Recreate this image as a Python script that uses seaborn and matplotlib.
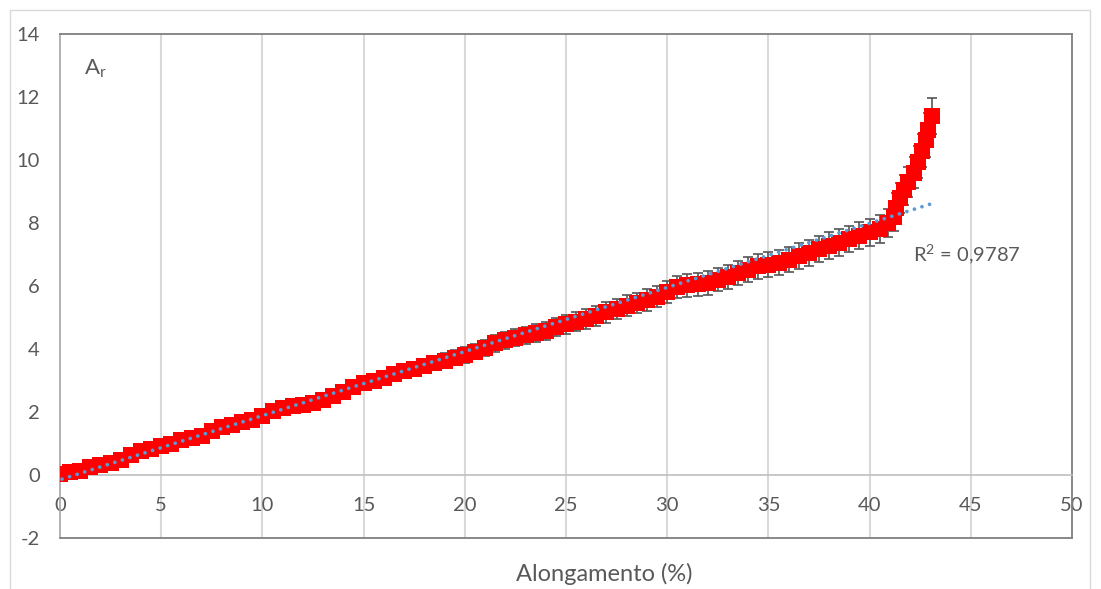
import matplotlib
matplotlib.use("Agg")
import numpy as np
import pandas as pd
import matplotlib.pyplot as plt
from matplotlib.ticker import MultipleLocator, FixedLocator
from matplotlib.patches import Rectangle
import seaborn as sns

# Elongation (%) of each measurement
elongation = [
    0.0, 0.5, 1.0, 1.5, 2.0, 2.5, 3.0, 3.5, 4.0, 4.5,
    5.0, 5.5, 6.0, 6.5, 7.0, 7.5, 8.0, 8.5, 9.0, 9.5,
    10.0, 10.5, 11.0, 11.5, 12.0, 12.5, 13.0, 13.5, 14.0, 14.5,
    15.0, 15.5, 16.0, 16.5, 17.0, 17.5, 18.0, 18.5, 19.0, 19.5,
    20.0, 20.5, 21.0, 21.5, 22.0, 22.5, 23.0, 23.5, 24.0, 24.5,
    25.0, 25.5, 26.0, 26.5, 27.0, 27.5, 28.0, 28.5, 29.0, 29.5,
    30.0, 30.5, 31.0, 31.5, 32.0, 32.5, 33.0, 33.5, 34.0, 34.5,
    35.0, 35.5, 36.0, 36.5, 37.0, 37.5, 38.0, 38.5, 39.0, 39.5,
    40.0, 40.5,
    40.9, 41.2, 41.3, 41.5, 41.7, 41.9, 42.2, 42.4, 42.6, 42.8, 42.9, 43.1,
]

# A_r mean values
ar_values = [
    0.03, 0.08, 0.14, 0.24, 0.32, 0.38, 0.48, 0.62, 0.75, 0.84,
    0.92, 1.00, 1.11, 1.17, 1.24, 1.40, 1.52, 1.60, 1.68, 1.76,
    1.87, 2.02, 2.13, 2.18, 2.23, 2.30, 2.38, 2.50, 2.62, 2.78,
    2.93, 3.00, 3.08, 3.20, 3.30, 3.38, 3.46, 3.55, 3.63, 3.72,
    3.80, 3.92, 4.04, 4.18, 4.28, 4.36, 4.43, 4.50, 4.58, 4.70,
    4.79, 4.86, 4.95, 5.05, 5.16, 5.28, 5.38, 5.46, 5.55, 5.66,
    5.80, 5.96, 6.02, 6.05, 6.10, 6.20, 6.30, 6.40, 6.52, 6.62,
    6.68, 6.74, 6.84, 6.94, 7.06, 7.18, 7.28, 7.38, 7.49, 7.60,
    7.70, 7.81,
    8.00, 8.20, 8.48, 8.80, 9.05, 9.30, 9.60, 9.94, 10.30, 10.63, 10.95, 11.40,
]

# Standard deviation of A_r
ar_error = [
    0.08, 0.08, 0.09, 0.09, 0.10, 0.10, 0.10, 0.11, 0.11, 0.11,
    0.12, 0.12, 0.12, 0.13, 0.13, 0.13, 0.14, 0.14, 0.14, 0.15,
    0.15, 0.15, 0.16, 0.16, 0.17, 0.17, 0.18, 0.18, 0.19, 0.19,
    0.20, 0.20, 0.21, 0.21, 0.22, 0.22, 0.23, 0.23, 0.24, 0.24,
    0.25, 0.25, 0.26, 0.26, 0.27, 0.27, 0.28, 0.28, 0.29, 0.29,
    0.30, 0.30, 0.31, 0.31, 0.32, 0.32, 0.33, 0.33, 0.34, 0.34,
    0.35, 0.35, 0.36, 0.36, 0.37, 0.37, 0.38, 0.38, 0.39, 0.39,
    0.40, 0.40, 0.40, 0.41, 0.41, 0.41, 0.42, 0.42, 0.42, 0.43,
    0.43, 0.43,
    0.44, 0.45, 0.46, 0.47, 0.48, 0.49, 0.50, 0.51, 0.52, 0.53, 0.55, 0.57,
]

# Linear trendline coefficients
trend_slope = 0.2035
trend_intercept = -0.15
trend_x = [0.1, 43.0]
r2_label = r"R$^{\mathregular{2}}$ = 0,9787"

x_ticks = [0, 5, 10, 15, 20, 25, 30, 35, 40, 45, 50]
y_ticks = [-2, 0, 2, 4, 6, 8, 10, 12, 14]
x_title = "Alongamento (%)"

df = pd.DataFrame({"x": elongation, "y": ar_values, "err": ar_error})
trend_df = pd.DataFrame({
    "x": trend_x,
    "y": [trend_intercept + trend_slope * v for v in trend_x],
})

sns.set_theme(style="white")
plt.rcParams["font.family"] = ["Lato", "DejaVu Sans"]
plt.rcParams["mathtext.fontset"] = "custom"
plt.rcParams["mathtext.rm"] = "Lato"
plt.rcParams["mathtext.it"] = "Lato"
plt.rcParams["axes.unicode_minus"] = False

W, H = 1101, 589
fig = plt.figure(figsize=(W / 100, H / 100), dpi=100)
fig.patch.set_facecolor("white")

left_px, right_px, top_px, bottom_px = 60, 1072, 34, 538
ax = fig.add_axes([left_px / W, 1 - bottom_px / H,
                   (right_px - left_px) / W, (bottom_px - top_px) / H])

text_color = "#595959"
grid_color = "#d9d9d9"
axis_color = "#bfbfbf"
frame_color = "#7f7f7f"

# error bars beneath the markers
ax.errorbar(df["x"], df["y"], yerr=df["err"], fmt="none",
            ecolor="#555555", elinewidth=1.2, capsize=3.8, capthick=1.2,
            zorder=2)

sns.scatterplot(data=df, x="x", y="y", marker="s", s=140, color="#ff0000",
                linewidth=0, ax=ax, zorder=3, legend=False)

sns.lineplot(data=trend_df, x="x", y="y", ax=ax, color="#5b9bd5",
             linewidth=2.7, zorder=4, legend=False,
             linestyle=(0, (0.01, 2.1)), dash_capstyle="round")

ax.set_xlim(0, 50)
ax.set_ylim(-2, 14)
ax.set_xlabel("")
ax.set_ylabel("")

ax.xaxis.set_major_locator(FixedLocator(x_ticks))
ax.xaxis.set_minor_locator(MultipleLocator(1))
ax.yaxis.set_major_locator(FixedLocator(y_ticks))
ax.yaxis.set_minor_locator(MultipleLocator(0.4))

# vertical gridlines only
ax.grid(False)
for v in x_ticks[1:-1]:
    ax.axvline(v, color=grid_color, linewidth=1.5, zorder=0.5)

# x axis crosses at y = 0
ax.spines["bottom"].set_position(("data", 0))
ax.spines["bottom"].set_color(axis_color)
ax.spines["bottom"].set_linewidth(1.2)
ax.spines["left"].set_color("#a6a6a6")
ax.spines["left"].set_linewidth(1.2)
for side in ("top", "right"):
    ax.spines[side].set_color(frame_color)
    ax.spines[side].set_linewidth(1.3)
ax.plot([0, 1], [0, 0], transform=ax.transAxes, color=frame_color,
        linewidth=1.3, clip_on=False, zorder=5)

ax.tick_params(axis="x", which="major", direction="inout", length=0,
               pad=16, labelsize=14.5, labelcolor=text_color, colors=axis_color)
ax.tick_params(axis="x", which="minor", direction="inout", length=9,
               width=1.2, colors=axis_color)
ax.tick_params(axis="y", which="major", direction="out", length=5.5,
               width=1.2, pad=9, labelsize=14.5, labelcolor=text_color,
               colors="#a6a6a6")
ax.tick_params(axis="y", which="minor", direction="out", length=3.5,
               width=1.2, colors="#a6a6a6")
for lbl in ax.get_xticklabels() + ax.get_yticklabels():
    lbl.set_color(text_color)

ax.text(1.2, 12.72, r"$\mathregular{A_r}$", fontsize=16, color=text_color,
        va="baseline", ha="left")
ax.text(42.15, 7.0, r2_label, fontsize=14.5, color=text_color,
        va="center", ha="left")

fig.text(604 / W, 1 - 574 / H, x_title, fontsize=17, color=text_color,
         ha="center", va="center")

# outer chart border
fig.patches.append(Rectangle((10 / W, -0.1), (1090 - 10) / W, 0.1 + 1 - 10 / H,
                             transform=fig.transFigure, fill=False,
                             edgecolor=grid_color, linewidth=1.0))

fig.savefig("out.png", dpi=100, facecolor="white")
